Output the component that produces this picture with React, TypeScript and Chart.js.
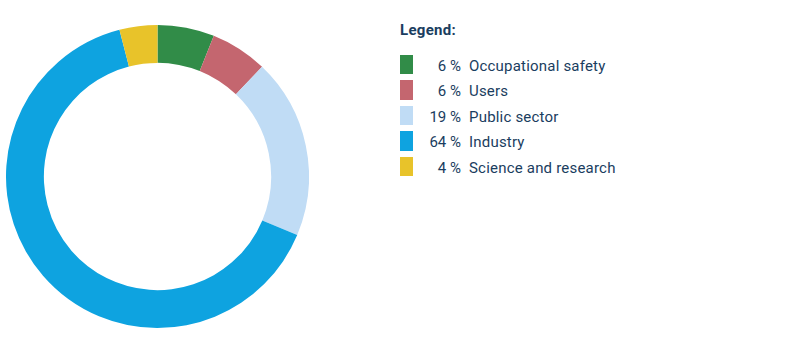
import React, { useEffect, useRef } from "react";
import { Chart, registerables } from "chart.js";

Chart.register(...registerables);

const categories = ["Occupational safety", "Users", "Public sector", "Industry", "Science and research"];
const shares = [6, 6, 19, 64, 4];
const colors = ["#318c48", "#c4666f", "#c0dcf5", "#0ea3e0", "#e8c32a"];
const legendTitle = "Legend:";

const TEXT = "#1a3d60";
const FONT = "Roboto, 'DejaVu Sans', sans-serif";

export default function App() {
  const ref = useRef<HTMLCanvasElement | null>(null);

  useEffect(() => {
    if (!ref.current) return;
    const chart = new Chart(ref.current, {
      type: "doughnut",
      data: {
        labels: categories,
        datasets: [
          {
            data: shares,
            backgroundColor: colors,
            borderWidth: 0,
            hoverOffset: 0,
          },
        ],
      },
      options: {
        animation: false,
        responsive: true,
        maintainAspectRatio: false,
        cutout: "75%",
        layout: { padding: 0 },
        plugins: {
          legend: { display: false },
          tooltip: { enabled: false },
        },
      },
    });
    return () => chart.destroy();
  }, []);

  return (
    <div
      style={{
        position: "absolute",
        left: 0,
        top: 0,
        width: 801,
        height: 351,
        background: "#fff",
        fontFamily: FONT,
        color: TEXT,
      }}
    >
      <div style={{ position: "absolute", left: 6, top: 24.5, width: 303, height: 303 }}>
        <canvas ref={ref} />
      </div>
      <div
        style={{
          position: "absolute",
          left: 400,
          top: 20,
          fontSize: 15,
          lineHeight: "20px",
          fontWeight: 700,
          letterSpacing: "0.3px",
        }}
      >
        {legendTitle}
      </div>
      {categories.map((c, i) => (
        <div
          key={c}
          style={{ position: "absolute", left: 400, top: 54.5 + i * 25.5, width: 300, height: 20 }}
        >
          <div
            style={{
              position: "absolute",
              left: 0,
              top: 0,
              width: 13,
              height: 19.5,
              background: colors[i],
            }}
          />
          <div
            style={{
              position: "absolute",
              left: 13,
              top: 1,
              width: 48,
              textAlign: "right",
              fontSize: 15,
              lineHeight: "20px",
              whiteSpace: "nowrap",
            }}
          >
            {shares[i]}&nbsp;%
          </div>
          <div
            style={{
              position: "absolute",
              left: 69,
              top: 1,
              fontSize: 15,
              lineHeight: "20px",
              letterSpacing: "0.2px",
              whiteSpace: "nowrap",
            }}
          >
            {c}
          </div>
        </div>
      ))}
    </div>
  );
}
